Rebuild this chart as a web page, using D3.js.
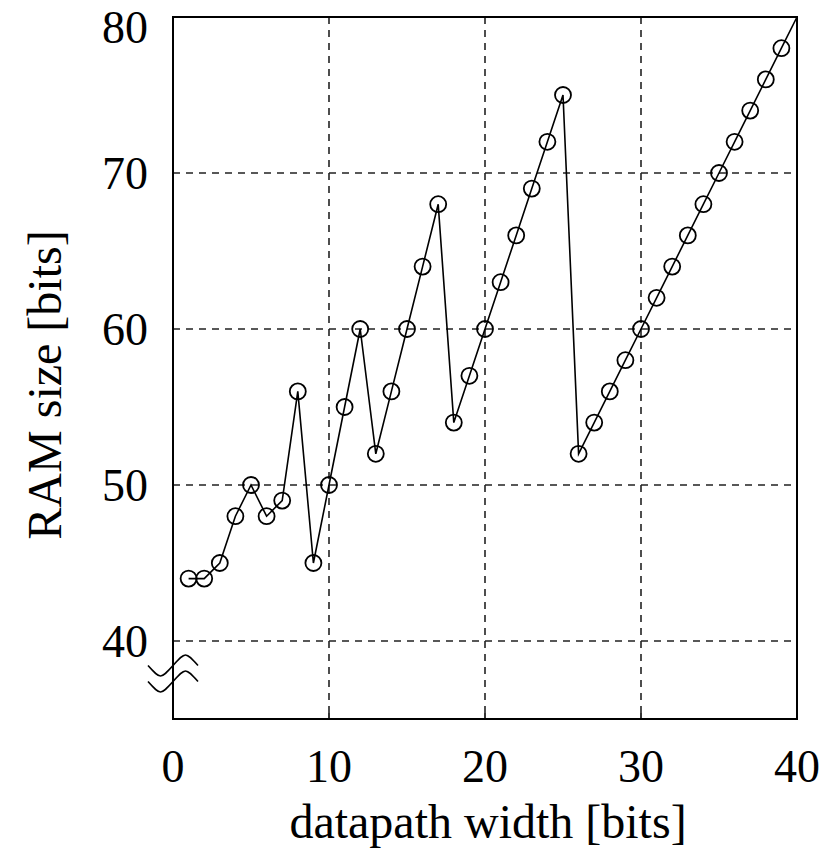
<!DOCTYPE html>
<html>
<head>
<meta charset="utf-8">
<script src="https://cdn.jsdelivr.net/npm/d3@7"></script>
<style>
  html, body { margin: 0; padding: 0; background: #fff; }
  svg { display: block; }
  text { font-family: "Liberation Serif", "DejaVu Serif", serif; fill: #000; }
</style>
</head>
<body>
<svg id="chart" width="834" height="850"></svg>
<script>
// datapath width [bits] vs. RAM size [bits]
const widths  = [1,2,3,4,5,6,7,8,9,10,11,12,13,14,15,16,17,18,19,20,
                 21,22,23,24,25,26,27,28,29,30,31,32,33,34,35,36,37,38,39,40];
const ramSize = [44,44,45,48,50,48,49,56,45,50,55,60,52,56,60,64,68,54,57,60,
                 63,66,69,72,75,52,54,56,58,60,62,64,66,68,70,72,74,76,78,80];
const xTicks = [0,10,20,30,40];
const yTicks = [40,50,60,70,80];
const xGrid = [10,20,30];
const yGrid = [40,50,60,70];
const xDomain = [0,40];
const yDomain = [35,80];
const breakValue = 37.4;   // axis break drawn below the first labelled value

const svg = d3.select("#chart");
const m = {left: 173, right: 797, top: 17, bottom: 719};

const x = d3.scaleLinear().domain(xDomain).range([m.left, m.right]);
const y = d3.scaleLinear().domain(yDomain).range([m.bottom, m.top]);

// dashed grid
svg.append("g").selectAll("line").data(xGrid).join("line")
  .attr("x1", d => x(d)).attr("x2", d => x(d))
  .attr("y1", m.top).attr("y2", m.bottom)
  .attr("stroke", "#222").attr("stroke-width", 1.6).attr("stroke-dasharray", "7,6");
svg.append("g").selectAll("line").data(yGrid).join("line")
  .attr("x1", m.left).attr("x2", m.right)
  .attr("y1", d => y(d)).attr("y2", d => y(d))
  .attr("stroke", "#222").attr("stroke-width", 1.6).attr("stroke-dasharray", "7,6");

// frame
svg.append("rect")
  .attr("x", m.left).attr("y", m.top)
  .attr("width", m.right - m.left).attr("height", m.bottom - m.top)
  .attr("fill", "none").attr("stroke", "#000").attr("stroke-width", 2);

// inner ticks on the bottom edge
svg.append("g").selectAll("line").data(xGrid).join("line")
  .attr("x1", d => x(d)).attr("x2", d => x(d))
  .attr("y1", m.bottom).attr("y2", m.bottom - 6)
  .attr("stroke", "#000").attr("stroke-width", 1.6);

// tick labels
svg.append("g").selectAll("text").data(xTicks).join("text")
  .attr("x", d => x(d)).attr("y", 782)
  .attr("text-anchor", "middle").attr("font-size", 46)
  .text(d => d);
svg.append("g").selectAll("text").data(yTicks).join("text")
  .attr("x", 148).attr("y", d => Math.max(y(d), 27) + 16)
  .attr("text-anchor", "end").attr("font-size", 46)
  .text(d => d);

// axis titles
svg.append("text")
  .attr("x", (m.left + m.right) / 2 + 3).attr("y", 838)
  .attr("text-anchor", "middle").attr("font-size", 48)
  .text("datapath width [bits]");
svg.append("text")
  .attr("transform", `translate(61,385) rotate(-90)`)
  .attr("text-anchor", "middle").attr("font-size", 48)
  .text("RAM size [bits]");

// axis break marks on the left edge
const yb = y(breakValue);
const wave = (cy) => {
  const x0 = m.left - 25, w = 50, a = 7;
  return `M${x0},${cy} C${x0 + w * 0.25},${cy + 2 * a} ${x0 + w * 0.25},${cy + 2 * a} ${x0 + w / 2},${cy} ` +
         `S${x0 + w * 0.75},${cy - 2 * a} ${x0 + w},${cy}`;
};
svg.append("g").selectAll("path").data([yb - 16, yb]).join("path")
  .attr("d", d => wave(d))
  .attr("fill", "none").attr("stroke", "#000").attr("stroke-width", 1.6);

// series line
const data = widths.map((w, i) => ({w, v: ramSize[i]}));
svg.append("path").datum(data)
  .attr("d", d3.line().x(d => x(d.w)).y(d => y(d.v)))
  .attr("fill", "none").attr("stroke", "#000").attr("stroke-width", 1.6);

// markers (the last point sits on the frame corner and carries no marker)
svg.append("g").selectAll("circle").data(data.slice(0, -1)).join("circle")
  .attr("cx", d => x(d.w)).attr("cy", d => y(d.v)).attr("r", 8)
  .attr("fill", "none").attr("stroke", "#000").attr("stroke-width", 1.8);
</script>
</body>
</html>
